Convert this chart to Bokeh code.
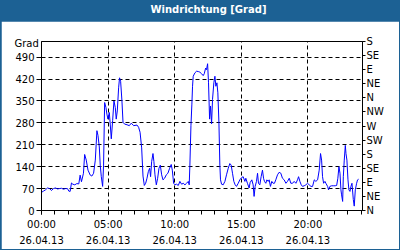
from bokeh.plotting import figure
from bokeh.models import (Div, FixedTicker, LinearAxis, Range1d, Title)
from bokeh.layouts import column
from bokeh.embed import file_html
from bokeh.resources import INLINE

# ---- data (hours since 26.04.13 00:00, wind direction in degrees) ----
hours = [
    0.00, 0.15, 0.30, 0.45, 0.60, 0.75, 0.90, 1.05, 1.20, 1.35, 1.50, 1.65, 1.80, 1.95,
    2.05, 2.15, 2.25, 2.35, 2.50, 2.65, 2.80, 2.90, 3.00, 3.15, 3.24, 3.36, 3.49, 3.66,
    3.78, 3.91, 4.04, 4.16, 4.24, 4.34, 4.41, 4.49, 4.59, 4.66, 4.74, 4.84, 4.91, 4.99,
    5.09, 5.16, 5.24, 5.34, 5.44, 5.54, 5.61, 5.69, 5.79, 5.86, 5.94, 6.04, 6.12, 6.24,
    6.42, 6.59, 6.74, 6.92, 7.17, 7.29, 7.40, 7.52, 7.62, 7.72, 7.82, 7.92, 8.02, 8.12,
    8.19, 8.27, 8.37, 8.44, 8.52, 8.62, 8.72, 8.82, 8.92, 9.02, 9.12, 9.24, 9.37, 9.49,
    9.62, 9.74, 9.82, 9.92, 10.02, 10.14, 10.27, 10.39, 10.52, 10.64, 10.77, 10.89, 11.02,
    11.09, 11.14, 11.22, 11.29, 11.34, 11.39, 11.52, 11.64, 11.77, 11.89, 12.02, 12.14,
    12.22, 12.32, 12.39, 12.47, 12.54, 12.62, 12.69, 12.77, 12.84, 12.94, 13.02, 13.09,
    13.17, 13.24, 13.32, 13.39, 13.44, 13.52, 13.64, 13.77, 13.89, 14.02, 14.14, 14.24,
    14.34, 14.44, 14.54, 14.64, 14.77, 14.89, 15.02, 15.14, 15.27, 15.34, 15.46, 15.59,
    15.66, 15.79, 15.89, 15.96, 16.04, 16.14, 16.22, 16.29, 16.39, 16.49, 16.59, 16.67,
    16.74, 16.84, 16.92, 17.02, 17.09, 17.19, 17.29, 17.39, 17.49, 17.59, 17.72, 17.84,
    17.97, 18.09, 18.22, 18.35, 18.47, 18.60, 18.72, 18.85, 18.97, 19.10, 19.22, 19.30,
    19.40, 19.50, 19.60, 19.72, 19.85, 19.97, 20.10, 20.23, 20.35, 20.48, 20.60, 20.73,
    20.85, 20.95, 21.03, 21.10, 21.18, 21.28, 21.35, 21.48, 21.55, 21.65, 21.78, 21.90,
    22.05, 22.16, 22.25, 22.33, 22.41, 22.48, 22.53, 22.61, 22.66, 22.73, 22.81, 22.86,
    22.93, 23.01, 23.08, 23.16, 23.23, 23.31, 23.41, 23.48, 23.56, 23.66, 23.73, 23.81,
]
direction = [
    58, 62, 66, 72, 70, 64, 70, 72, 69, 70, 71, 68, 70, 70,
    62, 61, 88, 84, 82, 86, 85, 113, 92, 119, 179, 161, 129, 113,
    110, 119, 161, 255, 240, 203, 145, 108, 77, 145, 345, 329, 308, 292,
    313, 276, 229, 287, 350, 329, 292, 318, 392, 424, 413, 350, 282, 276,
    274, 271, 279, 271, 273, 266, 250, 200, 110, 80, 87, 103, 124, 135,
    108, 156, 182, 156, 114, 82, 103, 135, 145, 114, 98, 103, 114, 119,
    135, 147, 129, 87, 82, 84, 80, 93, 84, 87, 82, 87, 93,
    82, 145, 271, 340, 397, 429, 440, 445, 444, 442, 437, 431,
    437, 455, 450, 469, 408, 292, 334, 277, 355, 408, 429, 397,
    408, 376, 282, 145, 98, 84, 82, 93, 114, 135, 150, 145,
    119, 93, 82, 77, 87, 98, 105, 108, 93, 103, 87, 72,
    89, 98, 82, 45, 77, 93, 119, 87, 82, 108, 129, 103,
    93, 87, 98, 93, 98, 77, 93, 87, 87, 98, 114, 122,
    119, 103, 98, 87, 93, 103, 87, 87, 93, 87, 98, 108,
    93, 82, 77, 79, 82, 87, 82, 77, 77, 98, 93, 98,
    129, 182, 161, 108, 87, 93, 87, 77, 66, 77, 79, 79,
    79, 80, 103, 140, 119, 66, 50, 29, 108, 161, 208, 182,
    161, 98, 66, 61, 77, 87, 35, 14, 66, 87, 98, 100,
]

x_major = [0, 5, 10, 15, 20]
x_minor = list(range(0, 25))
x_labels = ["00:00\n26.04.13", "05:00\n26.04.13", "10:00\n26.04.13",
            "15:00\n26.04.13", "20:00\n26.04.13"]
y_ticks = [0, 70, 140, 210, 280, 350, 420, 490]
compass_ticks = [0, 45, 90, 135, 180, 225, 270, 315, 360, 405, 450, 495, 540]
compass_labels = ["N", "NE", "E", "SE", "S", "SW", "W", "NW", "N", "NE", "E", "SE", "S"]
unit_text = "Grad"
chart_title = "Windrichtung [Grad]"

BLUE_FRAME = "#1c6194"
FONT = "DejaVu Sans"

title = Div(
    text=chart_title, width=400, height=21, margin=(0, 0, 0, 0),
    styles={"background-color": BLUE_FRAME, "color": "white", "font-weight": "bold",
            "font-family": FONT, "font-size": "10px", "text-align": "center",
            "line-height": "20px", "padding-left": "17px", "box-sizing": "border-box"},
)

p = figure(width=398, height=228, output_backend="svg", toolbar_location=None,
           x_range=Range1d(0, 24.1), y_range=Range1d(0, 540),
           min_border_left=40, min_border_right=37, min_border_top=20,
           min_border_bottom=38, margin=(0, 1, 1, 1))
p.background_fill_color = "white"
p.border_fill_color = "white"
p.outline_line_color = "black"
p.outline_line_width = 1

p.line(hours, direction, line_color="#0000ff", line_width=1)

# x axis
xa = p.xaxis[0]
xa.ticker = FixedTicker(ticks=x_major, minor_ticks=x_minor)
xa.major_label_overrides = {t: s for t, s in zip(x_major, x_labels)}
xa.major_label_text_font = FONT
xa.major_label_text_font_size = "10px"
xa.major_label_text_color = "black"
xa.major_label_text_line_height = 1.5
xa.major_tick_out = 4
xa.major_tick_in = 0
xa.minor_tick_out = 4
xa.minor_tick_in = 0
xa.major_label_standoff = 4
xa.axis_line_color = "black"

# left y axis
ya = p.yaxis[0]
ya.ticker = FixedTicker(ticks=y_ticks)
ya.major_label_text_font = FONT
ya.major_label_text_font_size = "10px"
ya.major_label_text_color = "black"
ya.major_tick_out = 5
ya.major_tick_in = 0
ya.minor_tick_out = 0
ya.minor_tick_in = 0
ya.major_label_standoff = 2
ya.axis_line_color = "black"

# right compass axis
ra = LinearAxis(ticker=FixedTicker(ticks=compass_ticks),
                major_label_overrides={t: s for t, s in zip(compass_ticks, compass_labels)})
ra.major_label_text_font = FONT
ra.major_label_text_font_size = "10px"
ra.major_label_text_color = "black"
ra.major_tick_out = 3
ra.major_tick_in = 0
ra.minor_tick_out = 0
ra.minor_tick_in = 0
ra.major_label_standoff = 1
ra.axis_line_color = "black"
p.add_layout(ra, "right")

# grid
p.xgrid.grid_line_color = "black"
p.xgrid.grid_line_dash = "4 3"
p.xgrid.grid_line_width = 1
p.ygrid.grid_line_color = "black"
p.ygrid.grid_line_dash = "4 3"
p.ygrid.grid_line_width = 1

# unit label above the left axis
unit_title = Title(text=unit_text, align="left", offset=-27, standoff=-14,
                   vertical_align="bottom", text_font=FONT, text_font_size="10px",
                   text_font_style="normal", text_color="black")
p.add_layout(unit_title, "above")

layout = column(title, p, spacing=0, styles={"background-color": BLUE_FRAME})

open("out.html", "w").write(file_html(layout, INLINE))
